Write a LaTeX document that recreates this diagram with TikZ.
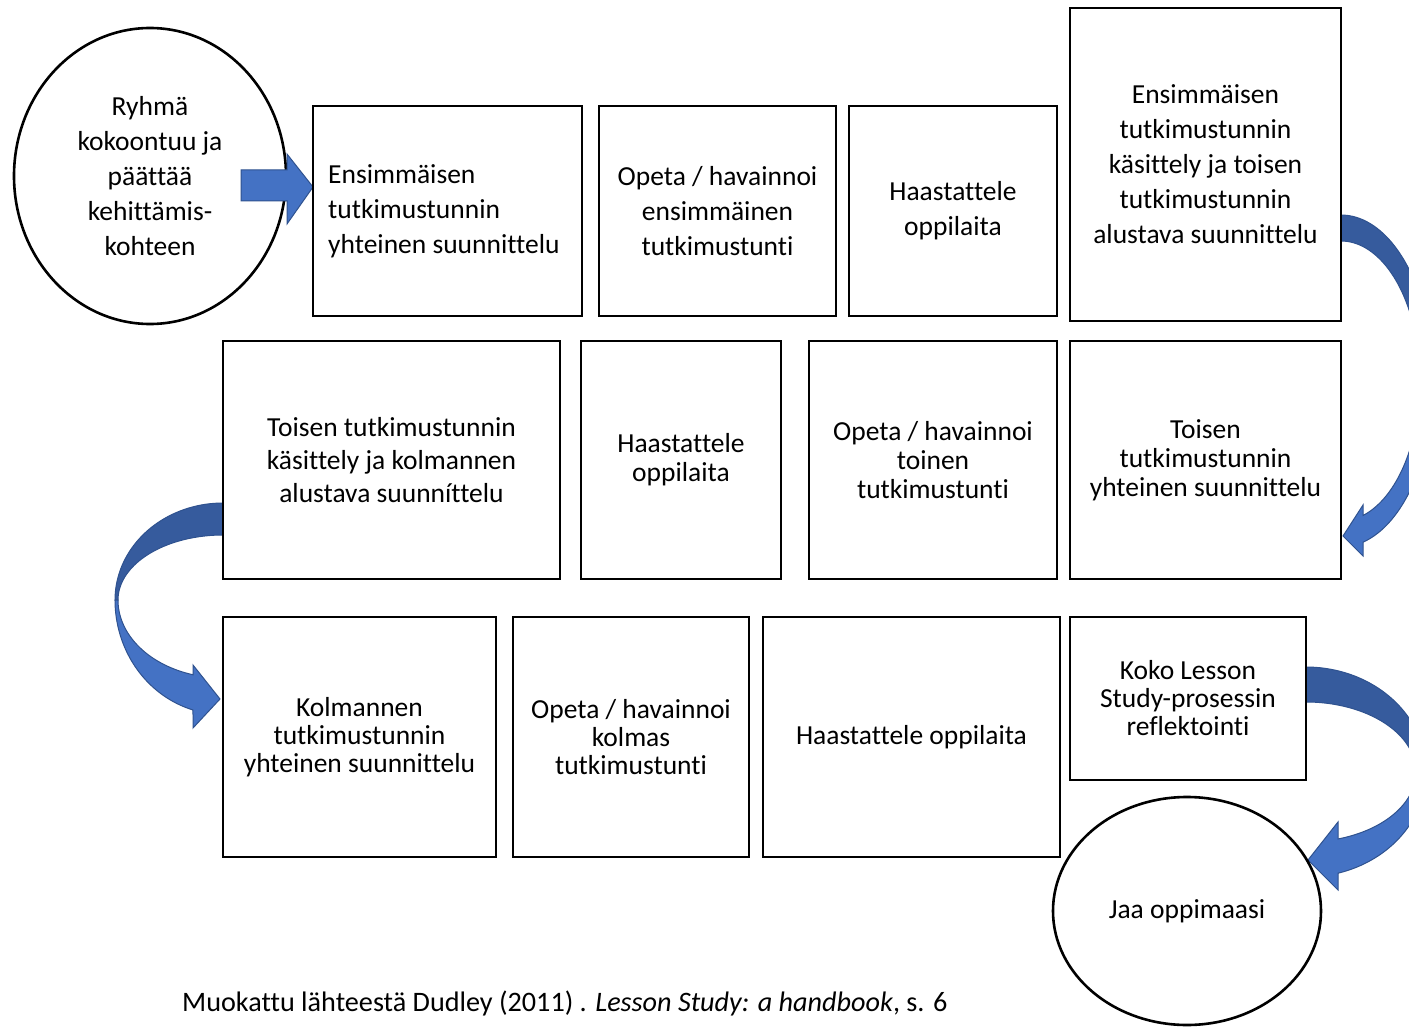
\documentclass[tikz,border=0pt]{standalone}
\usepackage{fontspec}
\setmainfont{Carlito}[Ligatures=NoCommon]
\usetikzlibrary{shapes.geometric}
\definecolor{arrowfill}{RGB}{68,114,196}
\definecolor{arrowdark}{RGB}{54,91,157}
\definecolor{arrowline}{RGB}{47,82,143}
\tikzset{
 box/.style={draw=black, line width=2.6pt, rectangle, inner sep=0pt, outer sep=0pt, align=center},
 oval/.style={draw=black, line width=2.6pt, ellipse, inner sep=0pt, outer sep=0pt, align=center},
 lsA/.style={font=\fontsize{27.5}{35}\selectfont},
 lsB/.style={font=\fontsize{27.5}{33}\selectfont},
 lsC/.style={font=\fontsize{27.5}{29}\selectfont},
 lsD/.style={font=\fontsize{27.5}{28}\selectfont},
 blk/.style={fill=arrowfill, draw=arrowline, line width=1pt, line join=miter},
 blkdark/.style={fill=arrowdark, draw=arrowline, line width=1pt, line join=miter},
}
\begin{document}
\begin{tikzpicture}[x=1pt,y=-1pt]
\clip (0,0) rectangle (1409,1027);
\fill[white] (0,0) rectangle (1409,1027);

% start circle
\node[oval, lsA, minimum width=272, minimum height=296] (c1) at (150,176)
  {Ryhmä\\kokoontuu ja\\päättää\\kehittämis-\\kohteen};

% straight block arrow
\filldraw[blk] (241,170) -- (287,170) -- (287,154) -- (313,187) -- (287,224) -- (287,201) -- (241,201) -- cycle;

% curved arrow A (row 1 -> row 2, right side)
\filldraw[blkdark] plot[domain=-90:0,samples=40,variable=\t] ({1341+92*cos(\t)},{381+166*sin(\t)})
  -- plot[domain=0:-90,samples=40,variable=\t] ({1341+79*cos(\t)},{381+140*sin(\t)}) -- cycle;
\filldraw[blk] plot[domain=0:76.17,samples=40,variable=\t] ({1341+92*cos(\t)},{381+166*sin(\t)})
  -- (1363,556) -- (1343,536) -- (1363,505)
  -- plot[domain=73.83:0,samples=40,variable=\t] ({1341+79*cos(\t)},{381+140*sin(\t)}) -- cycle;

% curved arrow B (row 2 -> row 3, left side)
\filldraw[blkdark] plot[domain=270:180,samples=40,variable=\t] ({223+108*cos(\t)},{600+97*sin(\t)})
  -- plot[domain=180:270,samples=40,variable=\t] ({223+105*cos(\t)},{600+65*sin(\t)}) -- cycle;
\filldraw[blk] plot[domain=180:106.13,samples=40,variable=\t] ({223+108*cos(\t)},{600+114.5*sin(\t)})
  -- (193,728) -- (220,699) -- (193,665)
  -- plot[domain=106.6:180,samples=40,variable=\t] ({223+105*cos(\t)},{600+78*sin(\t)}) -- cycle;

% curved arrow C (row 3 -> end circle)
\filldraw[blkdark] plot[domain=-90:0,samples=40,variable=\t] ({1306+120*cos(\t)},{772+105*sin(\t)})
  -- plot[domain=0:-90,samples=40,variable=\t] ({1306+110*cos(\t)},{772+70*sin(\t)}) -- cycle;
\filldraw[blk] plot[domain=0:74.53,samples=40,variable=\t] ({1306+120*cos(\t)},{772+105*sin(\t)})
  -- (1338,890) -- (1308,860) -- (1338,822)
  -- plot[domain=73.09:0,samples=40,variable=\t] ({1306+110*cos(\t)},{772+70*sin(\t)}) -- cycle;

% row 1
\node[box, minimum width=269, minimum height=210] (b1) at (447.5,211) {};
\node[lsA, align=left, anchor=west, inner sep=0pt] (b1t) at (328,211)
  {Ensimmäisen\\tutkimustunnin\\yhteinen suunnittelu};
\node[box, lsA, minimum width=237, minimum height=210] (b2) at (717.5,211)
  {Opeta / havainnoi\\ensimmäinen\\tutkimustunti};
\node[box, lsA, minimum width=208, minimum height=210] (b3) at (953,211)
  {Haastattele\\oppilaita};
\node[box, lsA, minimum width=271, minimum height=313] (b4) at (1205.5,164.5)
  {Ensimmäisen\\tutkimustunnin\\käsittely ja toisen\\tutkimustunnin\\alustava suunnittelu};

% row 2
\node[box, lsB, minimum width=337, minimum height=238] (b5) at (391.5,460)
  {Toisen tutkimustunnin\\käsittely ja kolmannen\\alustava suunníttelu};
\node[box, lsC, minimum width=200, minimum height=238] (b6) at (681,460)
  {Haastattele\\oppilaita};
\node[box, lsC, minimum width=248, minimum height=238] (b7) at (933,460)
  {Opeta / havainnoi\\toinen\\tutkimustunti};
\node[box, lsC, minimum width=271, minimum height=238] (b8) at (1205.5,460)
  {Toisen\\tutkimustunnin\\yhteinen suunnittelu};

% row 3
\node[box, lsD, minimum width=273, minimum height=240] (b9) at (359.5,737)
  {Kolmannen\\tutkimustunnin\\yhteinen suunnittelu};
\node[box, lsD, minimum width=236, minimum height=240] (b10) at (631,737)
  {Opeta / havainnoi\\kolmas\\tutkimustunti};
\node[box, lsD, minimum width=297, minimum height=240] (b11) at (911.5,737)
  {Haastattele oppilaita};
\node[box, lsD, minimum width=236, minimum height=163] (b12) at (1188,698.5)
  {Koko Lesson\\Study-prosessin\\reflektointi};

% end circle
\node[oval, lsA, minimum width=268, minimum height=228] (c2) at (1187,911)
  {Jaa oppimaasi};

% caption
\node[anchor=west, inner sep=0pt, font=\fontsize{28.2}{33}\selectfont] (cap) at (182,1003)
  {Muokattu lähteestä Dudley (2011) . \textit{Lesson Study: a handbook}, s. 6};
\end{tikzpicture}
\end{document}
